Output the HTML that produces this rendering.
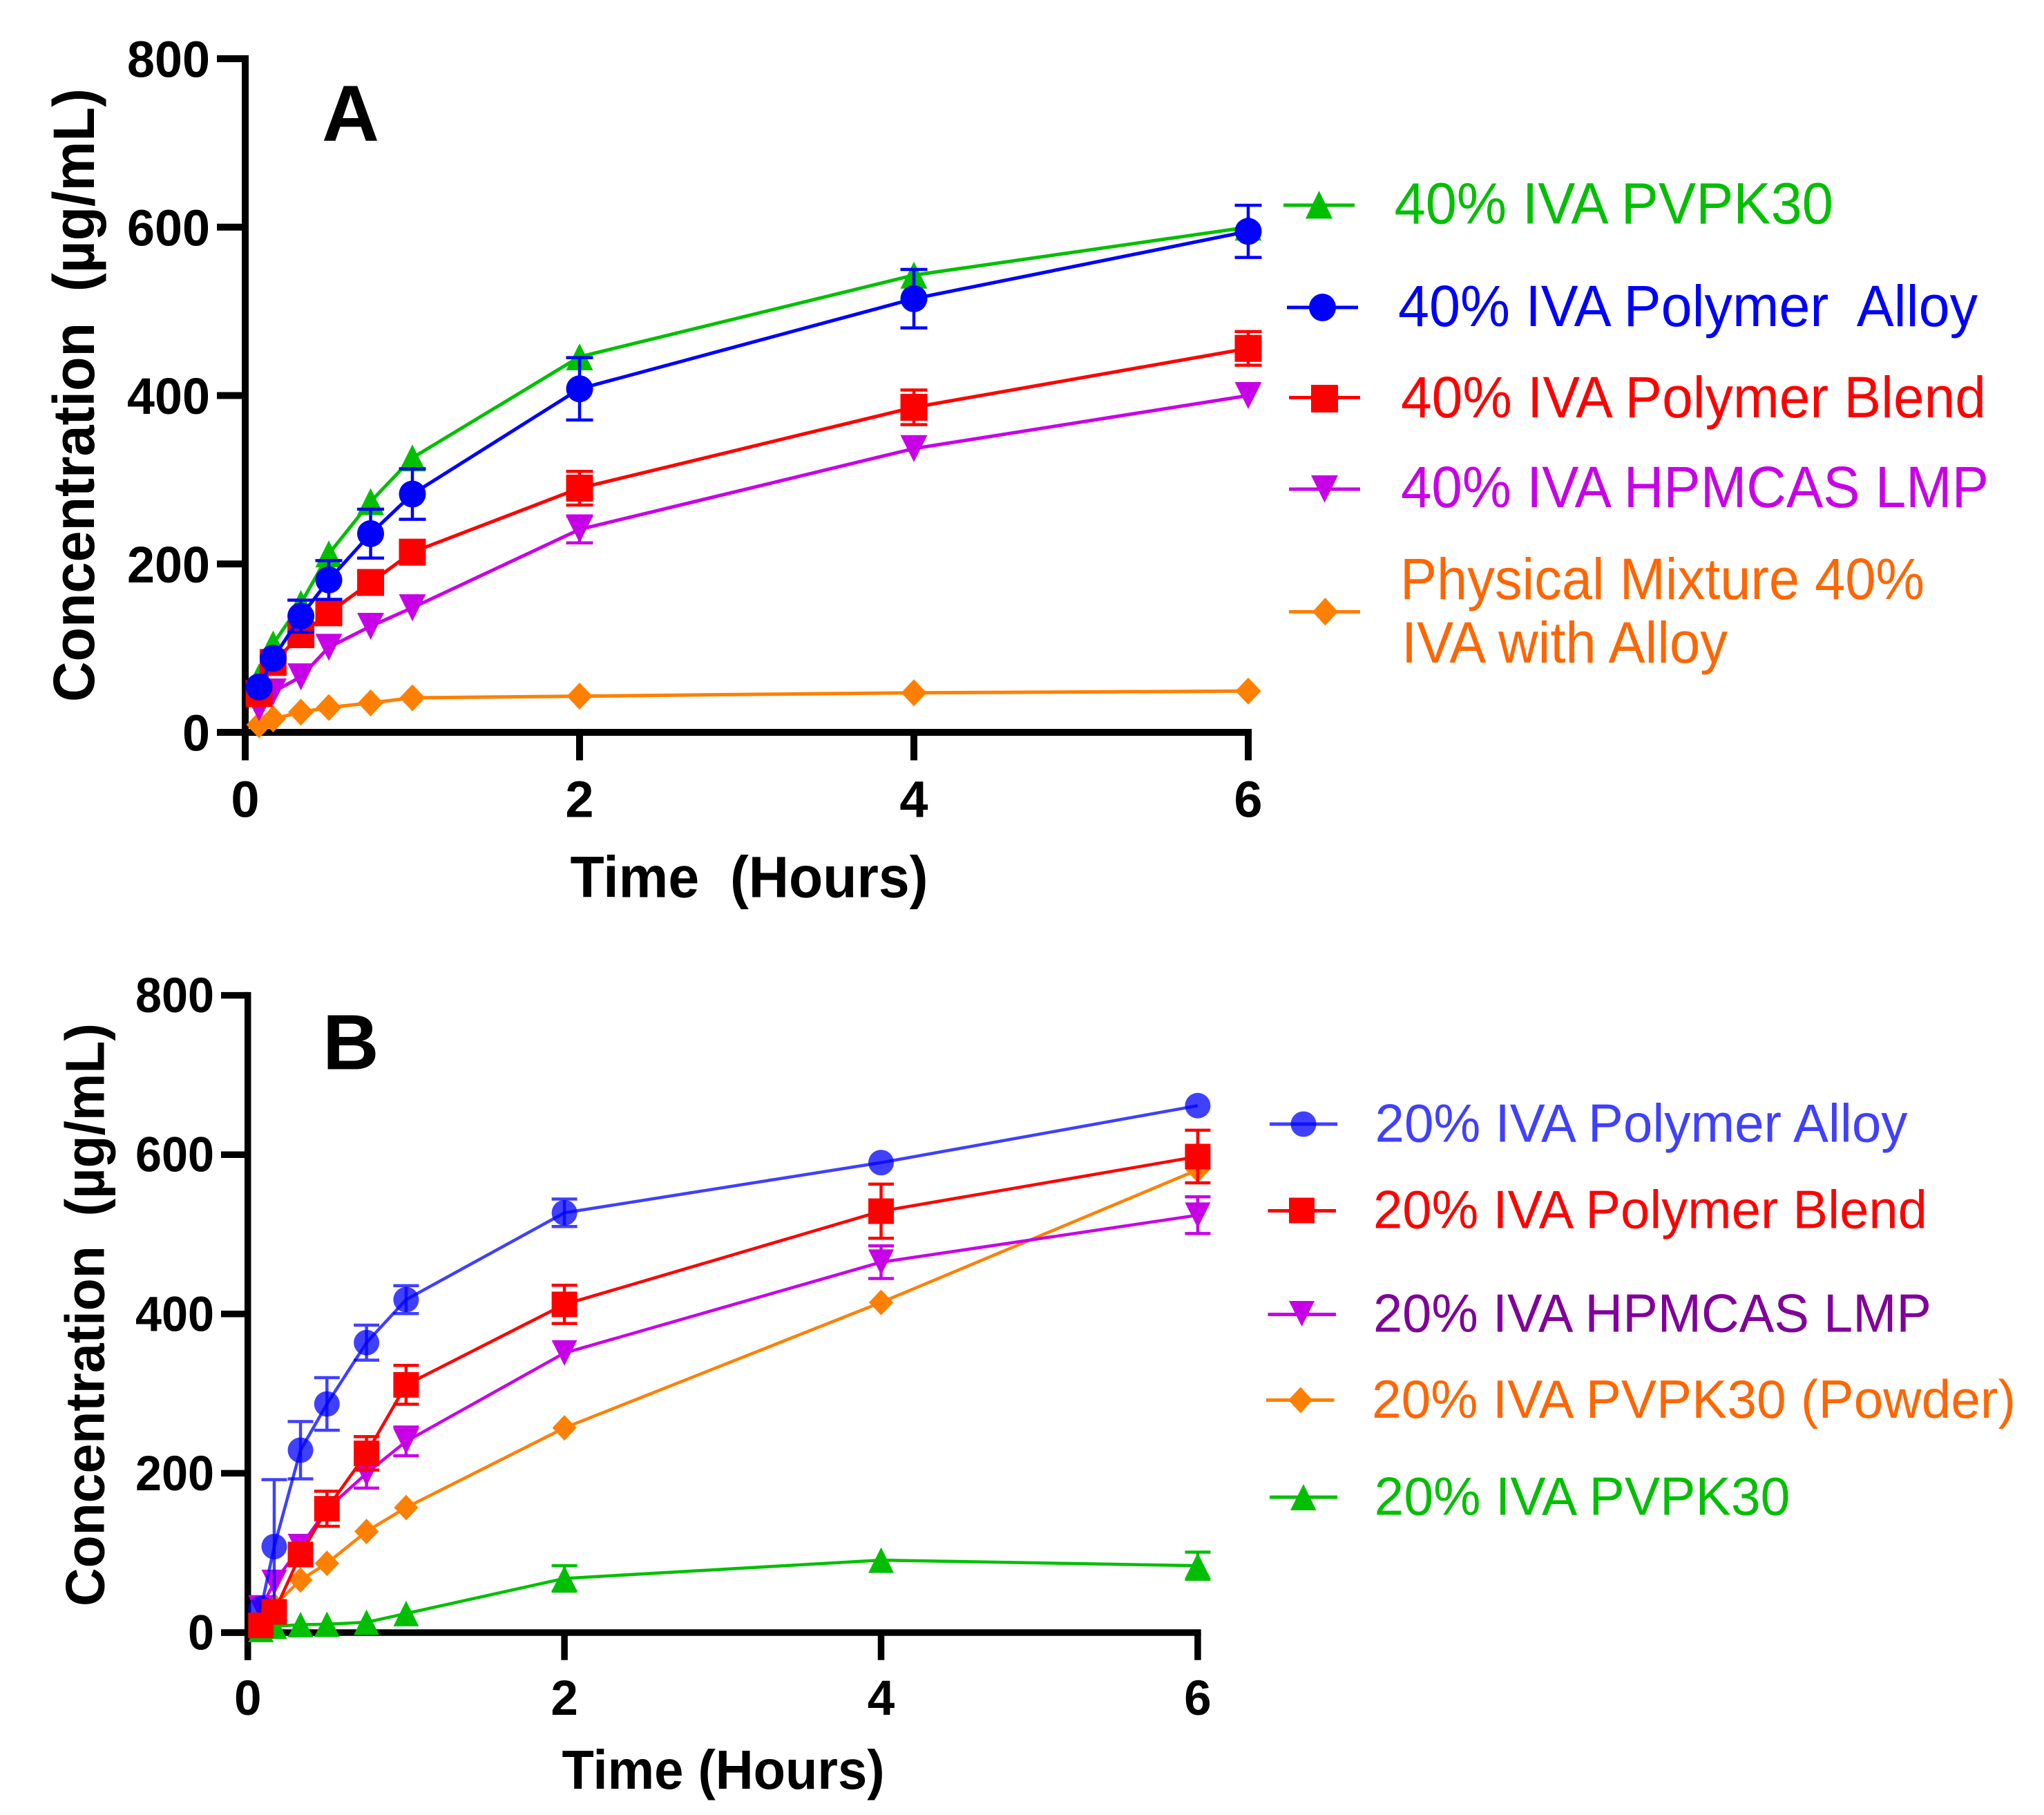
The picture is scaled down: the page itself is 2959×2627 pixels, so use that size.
<!DOCTYPE html>
<html lang="en">
<head>
<meta charset="utf-8">
<title>IVA concentration over time</title>
<style>
html,body{margin:0;padding:0;background:#fff}
svg{display:block}
text{font-family:"Liberation Sans",sans-serif;white-space:pre}
.tick{font-weight:700;fill:#000}
.title{font-weight:700;fill:#000}
</style>
</head>
<body>
<svg id="figure" xmlns="http://www.w3.org/2000/svg" width="2959" height="2627" viewBox="0 0 2959 2627">
<rect x="0" y="0" width="2959" height="2627" fill="#ffffff"/>

<g id="panel-a"></g>
<g id="panel-b"></g>

<text class="title" x="466" y="204" font-size="115">A</text>
<text class="title" x="467" y="1547.5" font-size="113">B</text>

<text class="title" transform="translate(136,1016) rotate(-90)" font-size="84" textLength="888" lengthAdjust="spacingAndGlyphs">Concentration  (µg/mL)</text>
<text class="title" x="825.5" y="1298.5" font-size="84" textLength="518" lengthAdjust="spacingAndGlyphs">Time  (Hours)</text>
<text class="title" transform="translate(150.5,2325) rotate(-90)" font-size="80" textLength="844" lengthAdjust="spacingAndGlyphs">Concentration  (µg/mL)</text>
<text class="title" x="813.5" y="2589" font-size="80" textLength="467" lengthAdjust="spacingAndGlyphs">Time (Hours)</text>

<g id="legend-a" font-size="84">
  <g>
    <line x1="1858" x2="1961" y1="297" y2="297" stroke="#00bf00" stroke-width="5"/>
    <polygon points="1909.5,276 1929,316.5 1890,316.5" fill="#00bf00"/>
    <text x="2018.5" y="323.5" fill="#00bf00" textLength="635.5" lengthAdjust="spacingAndGlyphs">40% IVA PVPK30</text>
  </g>
  <g>
    <line x1="1863" x2="1966" y1="445" y2="445" stroke="#0000ff" stroke-width="5"/>
    <ellipse cx="1914.5" cy="445" rx="19.5" ry="20" fill="#0000ff"/>
    <text x="2024" y="472" fill="#0000ff" textLength="839" lengthAdjust="spacingAndGlyphs">40% IVA Polymer  Alloy</text>
  </g>
  <g>
    <line x1="1866" x2="1969" y1="575.5" y2="575.5" stroke="#ff0000" stroke-width="5"/>
    <rect x="1898" y="557" width="39" height="40" fill="#ff0000"/>
    <text x="2028" y="604" fill="#ff0000" textLength="847" lengthAdjust="spacingAndGlyphs">40% IVA Polymer Blend</text>
  </g>
  <g>
    <line x1="1866" x2="1969" y1="708" y2="708" stroke="#c800e8" stroke-width="5"/>
    <polygon points="1898,688 1937,688 1917.5,727.5" fill="#c800e8"/>
    <text x="2028" y="734" fill="#c800e8" textLength="851" lengthAdjust="spacingAndGlyphs">40% IVA HPMCAS LMP</text>
  </g>
  <g>
    <line x1="1866" x2="1969" y1="885.5" y2="885.5" stroke="#ff8000" stroke-width="5"/>
    <polygon points="1918.5,865 1937,885.5 1918.5,905.5 1900,885.5" fill="#ff8000"/>
    <text x="2027" y="867" fill="#ff6600" textLength="759" lengthAdjust="spacingAndGlyphs">Physical Mixture 40%</text>
    <text x="2029" y="959" fill="#ff6600" textLength="472" lengthAdjust="spacingAndGlyphs">IVA with Alloy</text>
  </g>
</g>

<g id="legend-b" font-size="78">
  <g>
    <line x1="1838" x2="1936" y1="1627" y2="1627" stroke="#4040ff" stroke-width="5"/>
    <ellipse cx="1887" cy="1627" rx="18.5" ry="18.5" fill="#0000ff" fill-opacity="0.75"/>
    <text x="1990.5" y="1652.5" fill="#4040ff" textLength="771" lengthAdjust="spacingAndGlyphs">20% IVA Polymer Alloy</text>
  </g>
  <g>
    <line x1="1835.5" x2="1934" y1="1752.5" y2="1752.5" stroke="#ff0000" stroke-width="5"/>
    <rect x="1866" y="1733.5" width="37" height="37" fill="#ff0000"/>
    <text x="1988" y="1777.5" fill="#ff0000" textLength="802" lengthAdjust="spacingAndGlyphs">20% IVA Polymer Blend</text>
  </g>
  <g>
    <line x1="1835.5" x2="1934" y1="1902.5" y2="1902.5" stroke="#c800e8" stroke-width="5"/>
    <polygon points="1866,1883 1903,1883 1884.5,1920" fill="#c800e8"/>
    <text x="1988" y="1927.5" fill="#800099" textLength="808" lengthAdjust="spacingAndGlyphs">20% IVA HPMCAS LMP</text>
  </g>
  <g>
    <line x1="1833" x2="1931.5" y1="2026.5" y2="2026.5" stroke="#ff8000" stroke-width="5"/>
    <polygon points="1882.8,2007.5 1900,2026.5 1882.8,2045.5 1865,2026.5" fill="#ff8000"/>
    <text x="1986" y="2052" fill="#ff6600" textLength="932" lengthAdjust="spacingAndGlyphs">20% IVA PVPK30 (Powder)</text>
  </g>
  <g>
    <line x1="1838" x2="1936" y1="2167" y2="2167" stroke="#00bf00" stroke-width="5"/>
    <polygon points="1887,2148 1905.5,2186 1868,2186" fill="#00bf00"/>
    <text x="1989.5" y="2192.5" fill="#00bf00" textLength="602" lengthAdjust="spacingAndGlyphs">20% IVA PVPK30</text>
  </g>
</g>
</svg>

<script>
// ---- shared data ----
const hours = [0.083, 0.167, 0.333, 0.5, 0.75, 1, 2, 4, 6];
const xTickLabels = [0, 2, 4, 6];
const yTickLabels = [0, 200, 400, 600, 800];

// ---- panel A values (µg/mL) ----
const aPhysicalMixture = [9, 16, 24, 29.5, 35, 41, 43, 47, 49];
const aPhysicalMixtureErr = [0, 0, 0, 0, 0, 0, 0, 0, 0];
const aPvpk30 = [66, 105, 153, 212, 274, 326, 446, 543, 600];
const aPvpk30Err = [0, 0, 0, 0, 0, 0, 0, 0, 0];
const aHpmcas = [29, 48, 66, 101, 126, 148, 241, 337, 400];
const aHpmcasErr = [0, 0, 0, 0, 0, 0, 16, 0, 0];
const aBlend = [46, 83, 116, 142, 178, 214, 290, 386, 456];
const aBlendErr = [0, 0, 0, 0, 0, 0, 20, 20.6, 20];
const aAlloy = [54, 88, 138, 181, 236, 283, 408, 515, 595];
const aAlloyErr = [0, 0, 19, 23, 29, 30, 37, 34.7, 31];

// ---- panel B values (µg/mL) ----
const bPvpk30 = [4, 8, 10, 10.5, 13, 24, 68, 91, 84];
const bPvpk30Err = [0, 0, 0, 0, 0, 0, 16, 0, 17];
const bPowder = [10, 34, 66, 87, 127, 157, 257, 414.5, 581];
const bPowderErr = [0, 0, 0, 0, 0, 0, 0, 0, 0];
const bHpmcas = [31, 63, 108, 155, 200, 240, 351, 465, 524];
const bHpmcasErr = [0, 0, 0, 0, 18.6, 18, 0, 20.5, 23];
const bAlloy = [30, 108, 229, 287, 364, 418, 527, 590, 661.5];
const bAlloyErr = [0, 84, 36, 33, 22, 17.5, 17.2, 0, 0];
const bBlend = [9, 26, 98, 155.5, 225, 311, 412, 529, 597.6];
const bBlendErr = [0, 0, 0, 22, 21, 24.4, 24, 34, 33];

const SVGNS = 'http://www.w3.org/2000/svg';

function make(parent, tag, attrs) {
  const el = document.createElementNS(SVGNS, tag);
  for (const k in attrs) el.setAttribute(k, attrs[k]);
  parent.appendChild(el);
  return el;
}

function drawAxes(root, prefix, cfg) {
  const axisW = cfg.axisWidth;
  const yAxis = make(root, 'line', {x1: cfg.x(0), x2: cfg.x(0), y1: cfg.y(800) - axisW / 2, y2: cfg.tickBottom, stroke: '#000', 'stroke-width': axisW});
  
  
  const xAxis = make(root, 'line', {x1: cfg.tickLeft, x2: cfg.x(6) + axisW / 2, y1: cfg.y(0), y2: cfg.y(0), stroke: '#000', 'stroke-width': axisW});
  
  

  yTickLabels.forEach(function (v) {
    const tick = make(root, 'line', {x1: cfg.tickLeft, x2: cfg.x(0), y1: cfg.y(v), y2: cfg.y(v), stroke: '#000', 'stroke-width': axisW});
    
    
    const text = String(v);
    const label = make(root, 'text', {x: cfg.yLabelX, y: cfg.y(v) + cfg.yLabelDy, 'text-anchor': 'end', 'font-size': cfg.tickFont, class: 'tick', textLength: text.length * cfg.digitWidth, lengthAdjust: 'spacingAndGlyphs'});
    label.textContent = text;
    
    
  });

  xTickLabels.forEach(function (h) {
    const tick = make(root, 'line', {x1: cfg.x(h), x2: cfg.x(h), y1: cfg.y(0), y2: cfg.tickBottom, stroke: '#000', 'stroke-width': axisW});
    
    
    const label = make(root, 'text', {x: cfg.x(h), y: cfg.xLabelY, 'text-anchor': 'middle', 'font-size': cfg.tickFont, class: 'tick'});
    label.textContent = String(h);
    
    
  });
}

function drawMarker(g, kind, cx, cy, r, color, alpha) {
  let el;
  if (kind === 'circle') {
    el = make(g, 'circle', {cx: cx, cy: cy, r: r, fill: color, 'fill-opacity': alpha});
  } else if (kind === 'square') {
    el = make(g, 'rect', {x: cx - r, y: cy - r, width: 2 * r, height: 2 * r, fill: color, 'fill-opacity': alpha});
  } else if (kind === 'up') {
    el = make(g, 'polygon', {points: cx + ',' + (cy - r) + ' ' + (cx + r) + ',' + (cy + r) + ' ' + (cx - r) + ',' + (cy + r), fill: color, 'fill-opacity': alpha});
  } else if (kind === 'down') {
    el = make(g, 'polygon', {points: (cx - r) + ',' + (cy - r) + ' ' + (cx + r) + ',' + (cy - r) + ' ' + cx + ',' + (cy + r), fill: color, 'fill-opacity': alpha});
  } else {
    el = make(g, 'polygon', {points: cx + ',' + (cy - r) + ' ' + (cx + r * 0.95) + ',' + cy + ' ' + cx + ',' + (cy + r) + ' ' + (cx - r * 0.95) + ',' + cy, fill: color, 'fill-opacity': alpha});
  }
  return el;
}

function drawSeries(root, name, cfg, values, errors, kind, color, alpha) {
  const g = make(root, 'g', {});
  
  
  const pts = hours.map(function (h, i) { return cfg.x(h) + ',' + cfg.y(values[i]); }).join(' ');
  const line = make(g, 'polyline', {points: pts, fill: 'none', stroke: color, 'stroke-opacity': alpha, 'stroke-width': cfg.lineWidth, 'stroke-linejoin': 'round'});
  
  
  hours.forEach(function (h, i) {
    const cx = cfg.x(h);
    const cy = cfg.y(values[i]);
    const marker = drawMarker(g, kind, cx, cy, cfg.markerR, color, alpha);
    
    
    const err = errors[i];
    if (err > 0) {
      const top = cfg.y(values[i] + err);
      const bottom = cfg.y(values[i] - err);
      const bar = make(g, 'path', {
        d: 'M' + cx + ' ' + top + 'V' + bottom +
           'M' + (cx - cfg.markerR) + ' ' + top + 'H' + (cx + cfg.markerR) +
           'M' + (cx - cfg.markerR) + ' ' + bottom + 'H' + (cx + cfg.markerR),
        fill: 'none', stroke: color, 'stroke-opacity': alpha, 'stroke-width': cfg.errWidth
      });
      
      
    }
  });
}

const panelA = {
  x: function (h) { return 355 + 242 * h; },
  y: function (v) { return 1060 - 1.21875 * v; },
  axisWidth: 10, tickLeft: 314, tickBottom: 1100.5,
  yLabelX: 304, yLabelDy: 26.5, xLabelY: 1182.5, tickFont: 74, digitWidth: 40,
  lineWidth: 5, errWidth: 4.5, markerR: 19.5
};
const panelB = {
  x: function (h) { return 358.7 + 229.2 * h; },
  y: function (v) { return 2363 - 1.153 * v; },
  axisWidth: 9.5, tickLeft: 320, tickBottom: 2402.7,
  yLabelX: 310, yLabelDy: 24.5, xLabelY: 2482, tickFont: 71, digitWidth: 38,
  lineWidth: 4.5, errWidth: 4.5, markerR: 18.5
};

const rootA = document.getElementById('panel-a');
const rootB = document.getElementById('panel-b');

drawAxes(rootA, 'panel-a', panelA);
drawSeries(rootA, 'series-a-physical-mixture', panelA, aPhysicalMixture, aPhysicalMixtureErr, 'diamond', '#ff8000', 1);
drawSeries(rootA, 'series-a-pvpk30', panelA, aPvpk30, aPvpk30Err, 'up', '#00bf00', 1);
drawSeries(rootA, 'series-a-hpmcas', panelA, aHpmcas, aHpmcasErr, 'down', '#c800e8', 1);
drawSeries(rootA, 'series-a-polymer-blend', panelA, aBlend, aBlendErr, 'square', '#ff0000', 1);
drawSeries(rootA, 'series-a-polymer-alloy', panelA, aAlloy, aAlloyErr, 'circle', '#0000ff', 1);

drawAxes(rootB, 'panel-b', panelB);
drawSeries(rootB, 'series-b-pvpk30', panelB, bPvpk30, bPvpk30Err, 'up', '#00bf00', 1);
drawSeries(rootB, 'series-b-pvpk30-powder', panelB, bPowder, bPowderErr, 'diamond', '#ff8000', 1);
drawSeries(rootB, 'series-b-hpmcas', panelB, bHpmcas, bHpmcasErr, 'down', '#c800e8', 1);
drawSeries(rootB, 'series-b-polymer-alloy', panelB, bAlloy, bAlloyErr, 'circle', '#0000ff', 0.75);
drawSeries(rootB, 'series-b-polymer-blend', panelB, bBlend, bBlendErr, 'square', '#ff0000', 1);
</script>
</body>
</html>
